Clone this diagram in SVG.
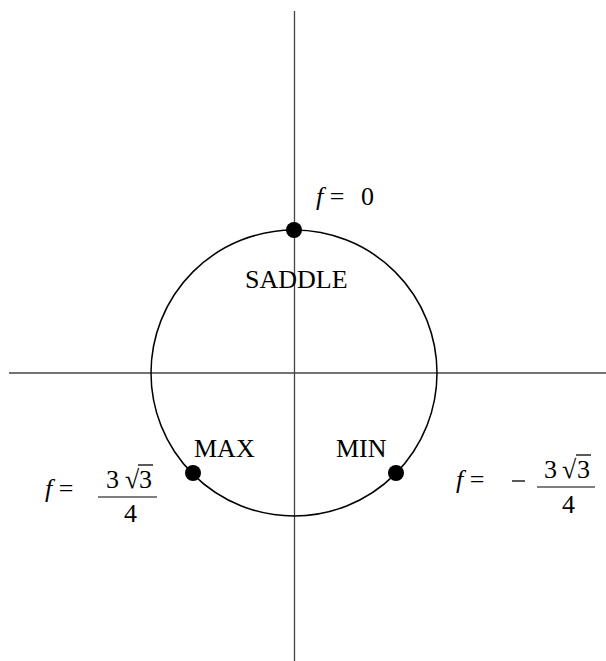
<svg xmlns="http://www.w3.org/2000/svg" width="606" height="661" viewBox="0 0 606 661">
<style>
.ax{stroke:#444;stroke-width:1.3;fill:none}
.circ{stroke:#000;stroke-width:1.5;fill:none}
.dot{fill:#000}
text{font-family:"Liberation Serif","Times New Roman",serif;font-size:26px;fill:#000}
.it{font-style:italic}
.frac{stroke:#555;stroke-width:1.5}
.vin{stroke:#000;stroke-width:1.3}
</style>
<rect width="606" height="661" fill="#fff"/>
<g id="axes">
<line class="ax" x1="294.5" y1="11" x2="294.5" y2="661"/>
<line class="ax" x1="9" y1="373" x2="606" y2="373"/>
</g>
<g id="circle">
<circle class="circ" cx="294" cy="373" r="143"/>
</g>
<g id="saddle">
<circle class="dot" cx="294" cy="230" r="8"/>
<text x="245" y="288">SADDLE</text>
<text x="316" y="205"><tspan class="it">f</tspan> = <tspan x="361">0</tspan></text>
</g>
<g id="max">
<circle class="dot" cx="193" cy="473" r="8"/>
<text x="194" y="457">MAX</text>
<text x="45" y="497"><tspan class="it">f</tspan> =</text>
<line class="frac" x1="98" y1="497" x2="157" y2="497"/>
<text x="106" y="488">3</text>
<text x="125" y="488">√</text>
<line class="vin" x1="138" y1="465" x2="153" y2="465"/>
<text x="139" y="488">3</text>
<text x="124" y="522">4</text>
</g>
<g id="min">
<circle class="dot" cx="396" cy="473" r="8"/>
<text x="336" y="457">MIN</text>
<text x="456" y="488"><tspan class="it">f</tspan> =</text>
<line class="vin" x1="512" y1="481" x2="525" y2="481"/>
<line class="frac" x1="537" y1="487" x2="595" y2="487"/>
<text x="544" y="478">3</text>
<text x="562" y="478">√</text>
<line class="vin" x1="576" y1="455" x2="591" y2="455"/>
<text x="577" y="478">3</text>
<text x="562" y="513">4</text>
</g>
</svg>
